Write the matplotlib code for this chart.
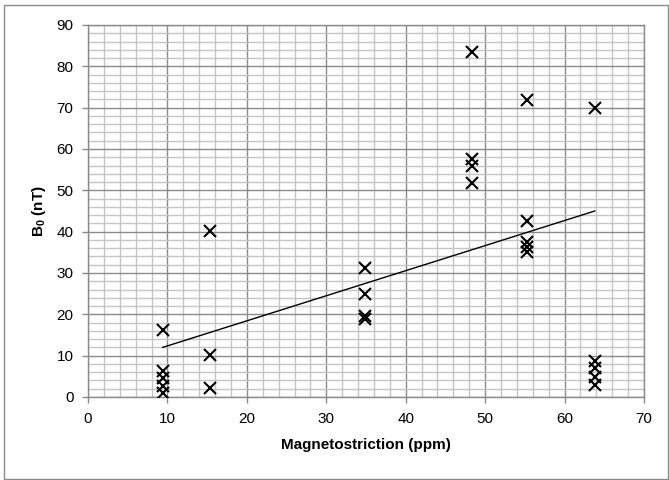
import matplotlib
matplotlib.use("Agg")
import matplotlib.pyplot as plt
from matplotlib.patches import Rectangle
from matplotlib.ticker import MultipleLocator

plt.rcParams['font.family'] = ['Liberation Sans', 'DejaVu Sans']
plt.rcParams['mathtext.fontset'] = 'custom'
plt.rcParams['mathtext.rm'] = 'Liberation Sans:bold'
plt.rcParams['mathtext.bf'] = 'Liberation Sans:bold'
plt.rcParams['mathtext.it'] = 'Liberation Sans:bold'

# Data
mag_x = [9.4, 9.4, 9.4, 9.4, 9.4,
         15.3, 15.3, 15.3,
         34.9, 34.9, 34.9, 34.9,
         48.3, 48.3, 48.3, 48.3,
         55.3, 55.3, 55.3, 55.3, 55.3,
         63.8, 63.8, 63.8, 63.8, 63.8]
b0_y = [16.1, 6.3, 4.6, 2.7, 1.0,
        40.1, 10.1, 2.1,
        31.3, 25.0, 19.7, 18.9,
        83.5, 57.6, 55.8, 51.8,
        71.8, 42.6, 37.4, 36.2, 35.0,
        69.8, 8.8, 7.0, 4.8, 3.0]

trend_x = [9.4, 63.8]
trend_y = [12.0, 45.0]

x_ticks = [0, 10, 20, 30, 40, 50, 60, 70]
y_ticks = [0, 10, 20, 30, 40, 50, 60, 70, 80, 90]

fig = plt.figure(figsize=(6.69, 4.8), dpi=100)
fig.subplots_adjust(left=88/669, right=644/669, top=1-25/480, bottom=1-397/480)
ax = fig.add_subplot(111)

ax.set_xlim(0, 70)
ax.set_ylim(0, 90)
ax.set_xticks(x_ticks)
ax.set_yticks(y_ticks)
ax.xaxis.set_minor_locator(MultipleLocator(2))
ax.yaxis.set_minor_locator(MultipleLocator(2))

ax.grid(which='minor', color='#c4c4c4', linewidth=1.0, zorder=0)
ax.grid(which='major', color='#8a8a8a', linewidth=1.0, zorder=0)
ax.set_axisbelow(True)

for s in ax.spines.values():
    s.set_color('#8a8a8a')
    s.set_linewidth(1.0)

ax.tick_params(which='major', direction='out', length=4.5, width=1.0, color='#8a8a8a',
               labelsize=11, labelcolor='black', pad=6)
ax.tick_params(which='minor', length=0)

ax.plot(mag_x, b0_y, linestyle='none', marker='x', markersize=9, markeredgewidth=1.5,
        color='black', zorder=3)
ax.plot(trend_x, trend_y, color='black', linewidth=1.0, zorder=3)

ax.set_xlabel('Magnetostriction (ppm)', fontsize=11, fontweight='bold', labelpad=9)
ax.set_ylabel(r'B$_{0}$ (nT)', fontsize=11, fontweight='bold', labelpad=6)

fig.patches.append(Rectangle((4/669, 1-479/480), 664/669, 474/480, transform=fig.transFigure,
                             fill=False, edgecolor='#8a8a8a', linewidth=1.0))

fig.savefig('out.png', dpi=100)
